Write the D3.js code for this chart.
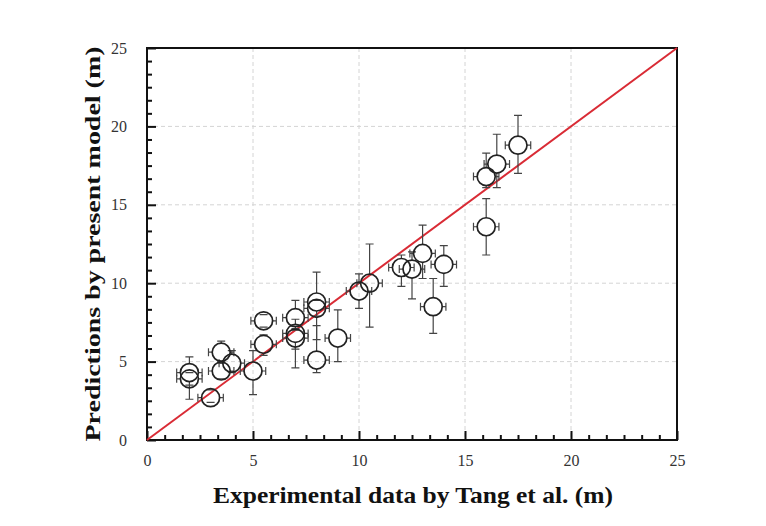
<!DOCTYPE html>
<html>
<head>
<meta charset="utf-8">
<script src="https://cdn.jsdelivr.net/npm/d3@7"></script>
<style>
  body { margin: 0; background: #fff; }
  svg { display: block; }
</style>
</head>
<body>
<div id="chart"></div>
<script>
// experimental value (x), model prediction (y), and the error bar extents
const expX   = [2.0, 2.0, 3.0, 3.5, 3.5, 4.0, 5.0, 5.5, 5.5, 7.0, 7.0, 7.0, 8.0, 8.0, 8.0, 9.0,
                10.0, 10.5, 12.0, 12.5, 13.0, 13.5, 14.0, 16.0, 16.0, 16.5, 17.5];
const predY  = [4.3, 3.9, 2.7, 5.6, 4.4, 4.9, 4.4, 6.1, 7.6, 7.8, 6.8, 6.5, 8.8, 8.4, 5.1, 6.5,
                9.5, 10.0, 11.0, 10.9, 11.9, 8.5, 11.2, 16.8, 13.6, 17.6, 18.8];
const errDown = [1.7, 0.4, 0.3, 0.6, 0.5, 0.6, 1.5, 0.7, 0.4, 0.8, 1.0, 1.9, 0.9, 2.0, 0.8, 1.5,
                 1.1, 2.8, 1.2, 1.9, 1.6, 1.7, 1.4, 0.7, 1.8, 1.5, 1.8];
const errUp   = [1.0, 0.4, 0.5, 0.7, 0.5, 0.8, 1.3, 0.6, 0.4, 1.1, 0.9, 0.6, 1.9, 0.5, 2.2, 1.8,
                 1.1, 2.5, 0.8, 1.1, 1.8, 1.8, 1.2, 1.5, 1.8, 1.9, 1.9];
const errX    = [0.6, 0.6, 0.6, 0.6, 0.6, 0.6, 0.6, 0.6, 0.6, 0.6, 0.6, 0.6, 0.6, 0.6,
                 0.6, 0.6, 0.6, 0.6, 0.6, 0.6, 0.6, 0.6, 0.6, 0.6, 0.6, 0.6, 0.6];
const majorTicks = [0, 5, 10, 15, 20, 25];

const width = 766, height = 526;
const margin = {top: 48, right: 89, bottom: 86, left: 147};
const w = width - margin.left - margin.right;
const h = height - margin.top - margin.bottom;
const R = 9;

const svg = d3.select("#chart").append("svg")
    .attr("width", width).attr("height", height);
const g = svg.append("g").attr("transform", `translate(${margin.left},${margin.top})`);

const x = d3.scaleLinear().domain([0, 25]).range([0, w]);
const y = d3.scaleLinear().domain([0, 25]).range([h, 0]);

// 5 minor ticks between majors (Origin style)
const minorTicks = [];
majorTicks.slice(0, -1).forEach(function(m) {
    for (let i = 1; i <= 5; i++) minorTicks.push(m + i * 5 / 6);
});

// dashed grid at the major ticks
g.append("g").selectAll("line.gx")
    .data(majorTicks.slice(1, -1)).enter().append("line")
    .attr("x1", d => x(d)).attr("x2", d => x(d))
    .attr("y1", 0).attr("y2", h)
    .attr("stroke", "#d4d4d4").attr("stroke-width", 1).attr("stroke-dasharray", "4,3");
g.append("g").selectAll("line.gy")
    .data(majorTicks.slice(1, -1)).enter().append("line")
    .attr("y1", d => y(d)).attr("y2", d => y(d))
    .attr("x1", 0).attr("x2", w)
    .attr("stroke", "#d4d4d4").attr("stroke-width", 1).attr("stroke-dasharray", "4,3");

const serif = "'Liberation Serif', 'Times New Roman', serif";

// axes: inward ticks
const xAxis = g.append("g").attr("transform", `translate(0,${h})`)
    .call(d3.axisBottom(x).tickValues(majorTicks).tickSize(-9).tickPadding(15));
g.append("g").attr("transform", `translate(0,${h})`)
    .call(d3.axisBottom(x).tickValues(minorTicks).tickSize(-5).tickFormat(""))
    .select(".domain").remove();
const yAxis = g.append("g")
    .call(d3.axisLeft(y).tickValues(majorTicks).tickSize(-9).tickPadding(20));
g.append("g")
    .call(d3.axisLeft(y).tickValues(minorTicks).tickSize(-5).tickFormat(""))
    .select(".domain").remove();

g.selectAll(".tick line").attr("stroke", "#111").attr("stroke-width", 2);
[xAxis, yAxis].forEach(function(a) {
    a.select(".domain").remove();
    a.selectAll("text").attr("font-family", serif).attr("font-size", 16).attr("fill", "#333");
});

// frame
g.append("rect").attr("x", 0).attr("y", 0).attr("width", w).attr("height", h)
    .attr("fill", "none").attr("stroke", "#111").attr("stroke-width", 2);

// y = x reference line
g.append("line")
    .attr("x1", x(0)).attr("y1", y(0)).attr("x2", x(25)).attr("y2", y(25))
    .attr("stroke", "#d92b35").attr("stroke-width", 2);

const pts = expX.map((d, i) => ({x: d, y: predY[i], lo: errDown[i], hi: errUp[i], ex: errX[i]}));

// error bars, drawn from the symbol edge outward
const eb = g.append("g").attr("stroke", "#444").attr("stroke-width", 1.2).attr("fill", "none");
pts.forEach(function(p) {
    const cx = x(p.x), cy = y(p.y);
    const y0 = y(p.y - p.lo), y1 = y(p.y + p.hi);
    const x0 = x(p.x - p.ex), x1 = x(p.x + p.ex);
    let d = "";
    if (y0 > cy + R) d += `M${cx},${cy + R}V${y0}`;
    if (y1 < cy - R) d += `M${cx},${cy - R}V${y1}`;
    d += `M${cx - 4},${y0}H${cx + 4}M${cx - 4},${y1}H${cx + 4}`;
    d += `M${cx - R},${cy}H${x0}M${cx + R},${cy}H${x1}`;
    d += `M${x0},${cy - 4}V${cy + 4}M${x1},${cy - 4}V${cy + 4}`;
    eb.append("path").attr("d", d);
});

g.append("g").selectAll("circle")
    .data(pts).enter().append("circle")
    .attr("cx", d => x(d.x)).attr("cy", d => y(d.y)).attr("r", R)
    .attr("fill", "none").attr("stroke", "#222").attr("stroke-width", 1.7);

// axis titles
svg.append("text")
    .attr("x", 413).attr("y", 503)
    .attr("text-anchor", "middle")
    .attr("font-family", serif).attr("font-weight", "bold").attr("font-size", 23)
    .attr("textLength", 400).attr("lengthAdjust", "spacingAndGlyphs")
    .attr("fill", "#111")
    .text("Experimental data by Tang et al. (m)");
svg.append("text")
    .attr("transform", "translate(100,244) rotate(-90)")
    .attr("text-anchor", "middle")
    .attr("font-family", serif).attr("font-weight", "bold").attr("font-size", 22)
    .attr("textLength", 395).attr("lengthAdjust", "spacingAndGlyphs")
    .attr("fill", "#111")
    .text("Predictions by present model (m)");
</script>
</body>
</html>
